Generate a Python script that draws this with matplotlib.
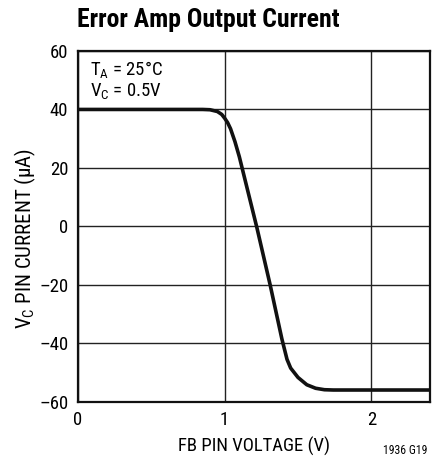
import matplotlib
matplotlib.use("Agg")
import matplotlib.pyplot as plt

plt.rcParams['font.family'] = ['Roboto Condensed', 'DejaVu Sans']

fb_voltage = [0, 0.85, 0.90, 0.95, 0.98, 1.00, 1.02, 1.04, 1.07, 1.10, 1.22, 1.31, 1.39,
              1.41, 1.425, 1.45, 1.50, 1.56, 1.62, 1.68, 1.74, 2.4]
vc_current = [40, 40, 39.9, 39.3, 38.3, 37.0, 35.5, 33.4, 29.0, 23.8, -0.5, -20, -38.5,
              -42.5, -45.5, -48.5, -51.7, -54.2, -55.4, -55.9, -56, -56]
x_ticks = [0, 1, 2]
y_ticks = [-60, -40, -20, 0, 20, 40, 60]
y_labels = ["\u201360", "\u201340", "\u201320", "0", "20", "40", "60"]

fig = plt.figure(figsize=(4.34, 4.70), dpi=100)
ax = fig.add_axes([78/434, 1-401.7/470, (430-78)/434, (401.7-51)/470])
ax.set_xlim(0, 2.4)
ax.set_ylim(-60, 60)
ax.set_xticks(x_ticks)
ax.set_xticklabels([str(t) for t in x_ticks])
ax.set_yticks(y_ticks)
ax.set_yticklabels(y_labels)
ax.grid(True, color='#222222', linewidth=1.0)
ax.set_axisbelow(True)
ax.tick_params(length=0, labelsize=13.5, pad=7)
for s in ax.spines.values():
    s.set_linewidth(1.6)
    s.set_color('#111111')

ax.plot(fb_voltage, vc_current, color='#111111', linewidth=2.6, solid_capstyle='butt',
        solid_joinstyle='round')

ax.text(0.035, 0.975, r"T$_\mathregular{A}$ = 25°C" + "\n" + r"V$_\mathregular{C}$ = 0.5V",
        transform=ax.transAxes, ha='left', va='top', fontsize=13.5, linespacing=1.05)

ax.set_xlabel("FB PIN VOLTAGE (V)", fontsize=13.5, labelpad=5)
fig.text(25/434, 1-239/470, r"V$_\mathregular{C}$ PIN CURRENT (μA)", fontsize=15,
         rotation=90, ha='center', va='center')

fig.text(77/434, 1-20/470, "Error Amp Output Current", fontsize=18.5, fontweight='bold',
         ha='left', va='center')
fig.text(427/434, 1-451/470, "1936 G19", fontsize=8.5, ha='right', va='center')

fig.savefig("out.png", dpi=100)
